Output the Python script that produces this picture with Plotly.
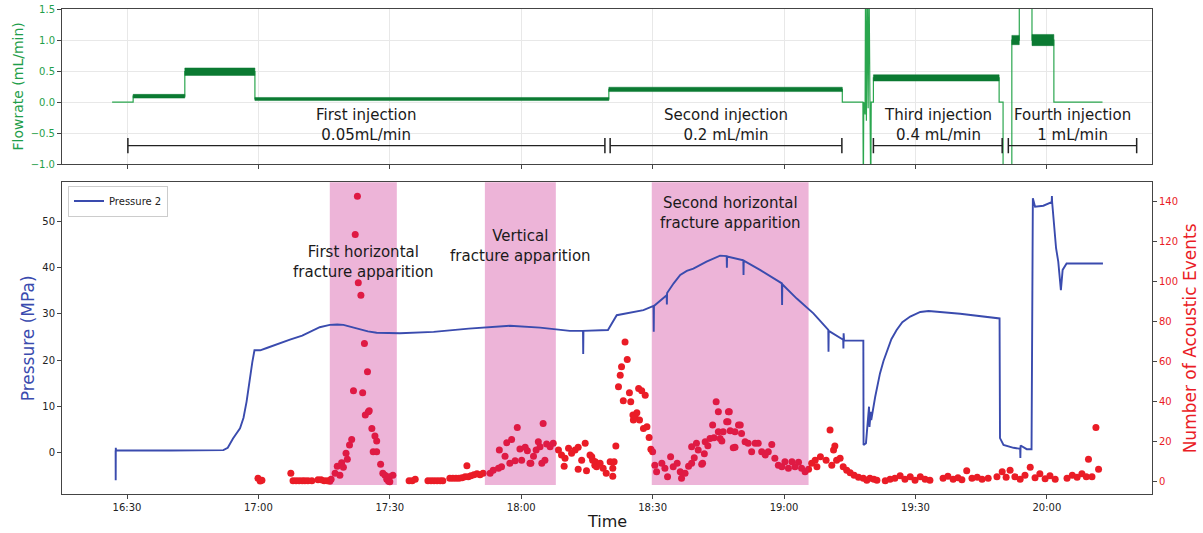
import pandas as pd
import plotly.graph_objects as go

BASE = pd.Timestamp("2024-01-01 16:00")


def to_time(mins):
    return [None if m is None else BASE + pd.Timedelta(minutes=m) for m in mins]


# ---------------- data (times are minutes after 16:00) ----------------
# Flowrate step curve (mL/min)
flow_min = [26.6, 31.4, 31.4, 43.2, 43.2, 59.2, 59.2, 140.0, 140.0, 193.3, 193.3,
            198.0, 198.1, 198.2, 198.5, 198.6, 198.8, 199.0, 199.2, 199.4, 199.6, 199.8, 199.9,
            200.4, 200.4, 229.1, 229.1, 230.0, 230.0, 232.0, 232.0, 233.7, 233.7,
            236.6, 236.6, 241.6, 241.6, 252.7]
flow_rate = [0.0, 0.0, 0.095, 0.095, 0.49, 0.49, 0.05, 0.05, 0.205, 0.205, 0.0,
             0.0, -1.5, 0.0, -0.2, 2.0, -0.3, 2.0, -0.1, 2.0, 0.1, -1.5, 0.0,
             0.0, 0.39, 0.39, 0.0, 0.0, -1.5, -1.5, 1.0, 1.0, 2.0,
             2.0, 1.0, 1.0, 0.0, 0.0]
# noisy plateaus of the flowrate signal
band_start = [31.4, 43.2, 59.2, 140.0, 200.4, 232.0, 236.6]
band_end = [43.2, 59.2, 140.0, 193.3, 229.1, 233.7, 241.6]
band_level = [0.095, 0.49, 0.05, 0.205, 0.39, 1.0, 1.0]
band_spread = [0.03, 0.06, 0.025, 0.035, 0.05, 0.075, 0.09]

# Injection intervals
injection_start = [30.2, 140.3, 200.4, 231.2]
injection_end = [139.1, 193.2, 229.8, 260.5]
injection_labels = ["First injection<br>0.05mL/min", "Second injection<br>0.2 mL/min",
                    "Third injection<br>0.4 mL/min", "Fourth injection<br>1 mL/min"]

# Pressure 2 (MPa)
pressure_min = [27.4, 27.42, 27.44, 27.5, 40.0, 52.0, 53.0, 54.2, 55.8, 56.6, 57.3, 57.7, 58.1,
                58.6, 59.1, 60.4, 61.9, 64.5, 67.2, 70.0, 74.0, 76.3, 78.0, 79.4, 81.0, 83.2,
                85.0, 87.0, 92.3, 100.0, 108.0, 117.4, 124.3,
                131.1, 134.1, 134.15, 134.2, 139.8, 141.8, 147.9, 150.2, 150.25, 150.3,
                153.2, 153.25, 153.3, 154.8, 156.3, 157.8, 159.3, 162.3, 165.4, 166.9, 166.95, 167.0,
                170.7, 170.75, 170.8, 174.5, 179.5, 179.55, 179.6, 182.9, 186.7, 190.1,
                190.15, 190.2, 193.5, 193.55, 193.6, 193.7, 198.1, 198.15, 198.7, 199.4,
                199.5, 199.8, 199.9, 200.8, 201.9, 202.7, 203.5, 204.5, 205.7, 207.0, 208.8,
                211.1, 213.0, 214.5,
                220.2, 229.2, 229.3, 230.1, 232.4, 233.9, 233.95, 234.0, 235.4, 236.5,
                236.8, 237.3, 239.2, 241.1, 241.15, 241.2, 242.1, 242.6, 243.2, 243.6,
                244.5, 252.8]
pressure_mpa = [0.4, -6.0, 1.0, 0.4, 0.4, 0.5, 1.0, 3.0, 5.2, 7.5, 11.0, 13.8, 16.7,
                19.5, 22.1, 22.1, 22.6, 23.4, 24.4, 25.3, 27.1, 27.6, 27.7, 27.6, 27.2, 26.5,
                26.2, 25.9, 25.8, 26.1, 26.8, 27.4, 27.0,
                26.3, 26.3, 21.3, 26.3, 26.5, 29.7, 30.8, 31.7, 26.1, 31.7,
                34.0, 32.0, 34.5, 36.6, 38.4, 39.3, 39.8, 41.3, 42.6, 42.5, 40.0, 42.4,
                41.6, 38.4, 41.5, 39.5, 36.6, 31.9, 36.4, 33.3, 30.1, 26.5,
                21.8, 26.3, 24.4, 22.5, 25.8, 24.2, 24.2, 1.6, 2.0, 9.9,
                5.5, 8.8, 7.0, 12.0, 17.1, 19.8, 22.1, 24.5, 26.5, 28.2, 29.4,
                30.4, 30.6, 30.5,
                30.0, 29.0, 3.1, 1.6, 1.0, 0.8, -1.2, 1.5, 0.7, 0.7,
                55.0, 53.2, 53.4, 54.2, 55.5, 54.2, 44.2, 41.3, 35.1, 39.5,
                40.9, 40.9]

# Number of acoustic events
events_min = [59.9, 60.4, 60.8, 67.4, 67.9, 68.6, 69.3, 70.0, 70.6, 71.3, 72.2, 73.6, 74.3, 75.0, 75.7, 76.3,
              76.6, 77.5, 78.0, 78.6, 79.0, 79.4, 80.0, 80.3, 80.8, 81.3, 81.7, 82.1, 82.6, 82.8, 83.4,
              83.8, 84.2, 84.4, 84.9, 85.1, 85.3, 85.9, 86.2, 86.6, 87.0, 87.0, 87.9, 88.4, 88.9, 89.3,
              89.7, 89.9, 90.0, 90.7,
              94.4, 95.1, 95.8, 98.7, 99.4, 100.1, 100.8, 101.5, 102.1, 103.7, 104.4, 105.1, 105.8,
              106.5, 107.2, 107.6, 107.9, 108.5, 109.2, 109.9, 110.6, 111.3,
              112.9, 113.6, 114.8, 115.0, 115.5, 116.3, 116.7, 117.4, 117.8, 118.6, 119.1, 119.7,
              120.1, 120.9, 121.4, 122.0, 122.2, 122.8, 123.4, 123.9, 124.3, 124.7, 125.0, 125.4,
              125.8, 126.6, 127.3,
              128.5, 129.2, 129.8, 130.0, 130.8, 131.5, 132.3, 133.0, 133.0, 133.8, 134.6, 134.9,
              135.7, 136.1, 136.3, 136.8, 136.9, 137.2, 138.0, 138.7, 139.4, 140.3, 140.9, 140.9,
              141.2, 141.6, 142.2, 142.6, 142.9, 143.3, 143.7, 144.2, 144.7, 145.0, 145.5, 145.6,
              146.0, 146.4, 146.8, 147.0, 147.5, 147.9, 148.3, 148.7, 149.2, 149.6,
              150.0, 150.5, 150.9, 152.1, 152.8, 153.4, 154.1, 154.7, 155.6, 156.3, 156.6, 157.4,
              158.2, 158.9, 158.9, 159.5, 160.0, 160.4, 161.2, 161.4, 161.8, 162.0, 162.6, 163.1,
              163.7, 164.0, 164.5, 165.0, 165.0, 165.4, 165.8, 166.1, 166.9, 167.2, 167.3, 167.5,
              167.7, 168.4, 168.8, 168.8, 169.6, 170.0, 170.3, 171.1, 171.8, 172.6, 173.4, 174.1,
              174.9, 175.7, 176.4, 177.2, 177.9, 178.7, 179.5, 180.2, 181.0, 181.8, 182.5, 183.3,
              184.0, 184.8, 185.6,
              186.3, 187.1, 187.5, 188.3, 189.6, 190.5, 190.9, 191.3, 191.6, 192.0, 192.8, 193.5,
              194.3, 195.1, 196.0, 197.0, 198.1, 198.9,
              199.6, 200.5, 201.2, 203.1, 204.2, 205.3, 206.5, 207.6, 208.8, 209.9, 211.1, 212.2,
              213.3, 216.3, 217.4, 218.6, 219.7, 220.6, 221.7, 222.9, 224.1, 225.2, 226.6, 228.6,
              229.8, 230.7, 231.6, 232.7, 233.9, 235.0, 236.2, 237.3, 238.4, 239.6, 240.7, 241.9,
              244.6, 245.8, 246.9, 248.0, 249.0, 249.5, 250.3, 251.2, 251.8]
events_count = [1.7, 0.4, 0.8, 4.3, 0.5, 0.5, 0.5, 0.5, 0.5, 0.5, 0.5, 1.0, 1.0, 0.5, 0.5, 0.3,
                1.2, 4.2, 7.8, 3.3, 9.5, 7.2, 14.2, 11.2, 18.3, 21.1, 45.4, 123.4, 142.5, 99.3, 93.1,
                44.4, 69.0, 33.3, 54.9, 34.9, 35.4, 26.6, 15.0, 22.8, 20.4, 15.0, 8.8, 4.2, 3.3, 1.2,
                0.3, 2.5, 0.0, 3.3,
                0.5, 0.5, 1.2, 0.5, 0.5, 0.5, 0.5, 0.5, 0.5, 1.7, 1.7, 1.7, 1.7,
                2.0, 2.5, 8.0, 2.5, 3.0, 3.5, 4.0, 3.5, 4.2,
                4.2, 5.8, 6.7, 15.8, 7.5, 12.8, 19.5, 9.2, 21.1, 10.5, 27.1, 16.3,
                10.8, 17.2, 15.5, 9.2, 9.2, 12.8, 15.8, 20.0, 17.5, 9.2, 29.1, 10.8,
                18.8, 17.5, 19.2,
                15.8, 13.3, 7.8, 11.7, 16.7, 14.2, 15.8, 17.2, 6.2, 10.8, 19.2, 5.5,
                13.3, 12.5, 10.8, 8.3, 10.0, 7.5, 9.2, 6.7, 4.2, 10.0, 6.7, 2.8,
                10.0, 17.8, 47.4, 53.2, 57.4, 40.4, 69.8, 61.0, 44.4, 39.9, 33.3, 30.8,
                32.4, 34.4, 46.6, 30.8, 45.4, 26.6, 43.2, 27.4, 22.1, 16.2,
                15.0, 8.3, 5.0, 9.2, 6.7, 2.5, 12.5, 7.5, 9.2, 5.0, 1.7, 4.2,
                7.8, 9.2, 17.5, 12.0, 19.2, 15.8, 8.8, 9.2, 14.0, 20.0, 18.0, 21.6,
                28.3, 22.0, 39.9, 34.9, 25.0, 21.6, 20.3, 24.9, 29.9, 29.9, 34.9, 34.9,
                25.5, 17.0, 24.9, 17.2, 28.3, 28.3, 24.1, 20.0, 19.2, 15.0, 19.2, 19.2,
                15.0, 13.3, 15.0, 18.6, 11.7, 8.3, 7.5, 10.0, 6.7, 10.0, 7.5, 9.7,
                6.7, 5.0, 6.3,
                9.2, 10.8, 7.5, 12.5, 10.8, 25.8, 8.3, 15.8, 17.8, 10.8, 11.7, 7.5,
                5.8, 4.5, 3.3, 2.2, 1.7, 0.8,
                1.7, 1.2, 0.8, 0.5, 1.2, 1.7, 3.0, 1.2, 2.5, 0.8, 2.5, 1.2,
                0.8, 1.7, 2.8, 1.2, 2.0, 1.0, 5.5, 1.7, 2.2, 1.2, 1.7, 2.5,
                5.0, 2.2, 5.8, 2.5, 1.2, 3.3, 7.2, 2.0, 4.0, 1.5, 3.0, 1.2,
                1.7, 3.3, 2.2, 4.0, 2.5, 11.2, 2.5, 27.1, 6.2]

# Fracture periods (shaded)
shade_start = [76.3, 111.7, 149.8]
shade_end = [91.6, 127.9, 185.6]
shade_labels = ["First horizontal<br>fracture apparition", "Vertical<br>fracture apparition",
                "Second horizontal<br>fracture apparition"]
shade_label_pressure = [41.2, 44.6, 51.8]

tick_min = [30, 60, 90, 120, 150, 180, 210, 240]

# ---------------- styles ----------------
GREEN_LINE = "#2aa64e"
GREEN_BAND = "#0b7a32"
GREEN_TXT = "#1f9e4a"
BLUE = "#3a4bae"
RED = "#ea1c26"
SHADE = "rgba(199,21,133,0.32)"
AX = "#444444"

fig = go.Figure()

# flowrate
fig.add_trace(go.Scatter(x=to_time(flow_min), y=flow_rate, mode="lines",
                         line=dict(color=GREEN_LINE, width=1.2), showlegend=False,
                         xaxis="x", yaxis="y", hoverinfo="skip"))
for s, e, lv, sp in zip(band_start, band_end, band_level, band_spread):
    fig.add_trace(go.Scatter(x=to_time([s, e, e, s, s]), y=[lv - sp, lv - sp, lv + sp, lv + sp, lv - sp],
                             mode="lines", fill="toself", fillcolor=GREEN_BAND,
                             line=dict(color=GREEN_BAND, width=0.5), showlegend=False,
                             xaxis="x", yaxis="y", hoverinfo="skip"))

# injection interval bars
bx, by = [], []
for s, e in zip(injection_start, injection_end):
    bx += [s, e, None]
    by += [-0.7, -0.7, None]
fig.add_trace(go.Scatter(x=to_time(bx), y=by, mode="lines+markers",
                         line=dict(color="#222222", width=1.3),
                         marker=dict(symbol="line-ns", size=11, line=dict(color="#222222", width=1.5)),
                         showlegend=False, xaxis="x", yaxis="y", hoverinfo="skip"))

for s, e, lab in zip(injection_start, injection_end, injection_labels):
    fig.add_annotation(x=BASE + pd.Timedelta(minutes=(s + e) / 2), y=-0.37, xref="x", yref="y",
                       text=lab, showarrow=False, font=dict(size=15, color="#1a1a1a"))

# acoustic events
fig.add_trace(go.Scatter(x=to_time(events_min), y=events_count, mode="markers",
                         marker=dict(color=RED, size=7, line=dict(width=0)),
                         showlegend=False, xaxis="x2", yaxis="y2", hoverinfo="skip"))

# shaded fracture periods (above the events, below the pressure line)
for s, e in zip(shade_start, shade_end):
    fig.add_trace(go.Scatter(x=to_time([s, e, e, s, s]), y=[-1.6, -1.6, 300, 300, -1.6],
                             mode="lines", fill="toself", fillcolor=SHADE,
                             line=dict(width=0, color="rgba(0,0,0,0)"), showlegend=False,
                             xaxis="x2", yaxis="y2", hoverinfo="skip"))

# pressure
fig.add_trace(go.Scatter(x=to_time(pressure_min), y=pressure_mpa, mode="lines",
                         line=dict(color=BLUE, width=1.9), name="Pressure 2",
                         showlegend=True, xaxis="x2", yaxis="y3"))

for s, e, lab, yp in zip(shade_start, shade_end, shade_labels, shade_label_pressure):
    fig.add_annotation(x=BASE + pd.Timedelta(minutes=(s + e) / 2), y=yp, xref="x2", yref="y3",
                       text=lab, showarrow=False, font=dict(size=15, color="#1a1a1a"))

# axis titles
fig.add_annotation(x=-0.0404, y=0.840, xref="paper", yref="paper", text="Flowrate (mL/min)",
                   textangle=-90, showarrow=False, font=dict(size=14, color=GREEN_TXT),
                   xanchor="center", yanchor="middle")
fig.add_annotation(x=-0.0312, y=0.321, xref="paper", yref="paper", text="Pressure (MPa)",
                   textangle=-90, showarrow=False, font=dict(size=17, color=BLUE),
                   xanchor="center", yanchor="middle")
fig.add_annotation(x=1.0349, y=0.321, xref="paper", yref="paper", text="Number of Acoustic Events",
                   textangle=-90, showarrow=False, font=dict(size=17, color=RED),
                   xanchor="center", yanchor="middle")
fig.add_annotation(x=0.5, y=-0.057, xref="paper", yref="paper", text="Time",
                   showarrow=False, font=dict(size=16, color="#1a1a1a"),
                   xanchor="center", yanchor="middle")

x_range = [BASE + pd.Timedelta(minutes=15.16), BASE + pd.Timedelta(minutes=264.0)]
tickvals = to_time(tick_min)

common_x = dict(type="date", range=x_range, tickvals=tickvals, tickformat="%H:%M",
                ticks="outside", ticklen=4, tickcolor=AX, showline=True, linecolor=AX,
                linewidth=1, mirror=True, zeroline=False)

fig.update_layout(
    width=1203, height=533,
    margin=dict(l=62, r=51, t=9, b=39, autoexpand=False),
    paper_bgcolor="white", plot_bgcolor="white",
    font=dict(family="DejaVu Sans", size=10, color="#222222"),
    showlegend=True,
    legend=dict(x=0.0055, y=0.636, xanchor="left", yanchor="top",
                bordercolor="#cccccc", borderwidth=1, bgcolor="rgba(255,255,255,0.85)",
                font=dict(size=10), itemwidth=30, tracegroupgap=0),
    xaxis=dict(domain=[0, 1], anchor="y", showticklabels=False, showgrid=True,
               gridcolor="#e8e8e8", **common_x),
    yaxis=dict(domain=[0.680, 1.0], anchor="x", range=[-1, 1.5],
               tickvals=[-1, -0.5, 0, 0.5, 1, 1.5], tickformat=".1f",
               ticks="outside", ticklen=4, tickcolor=AX, showline=True, linecolor=AX,
               mirror=True, showgrid=True, gridcolor="#e8e8e8", zeroline=False,
               tickfont=dict(color=GREEN_TXT, size=10)),
    xaxis2=dict(domain=[0, 1], anchor="y2", showgrid=False, **common_x),
    yaxis2=dict(domain=[0, 0.643], anchor="x2", side="right", range=[-6.1, 149.5],
                tickvals=[0, 20, 40, 60, 80, 100, 120, 140], ticks="outside", ticklen=4,
                tickcolor=AX, showline=True, linecolor=AX, showgrid=False, zeroline=False,
                tickfont=dict(color=RED, size=10)),
    yaxis3=dict(overlaying="y2", anchor="x2", side="left", range=[-9, 58.5],
                tickvals=[0, 10, 20, 30, 40, 50], ticks="outside", ticklen=4,
                tickcolor=AX, showline=True, linecolor=AX, showgrid=False, zeroline=False,
                tickfont=dict(color="#222222", size=10)),
)

fig.write_html("out.html")
